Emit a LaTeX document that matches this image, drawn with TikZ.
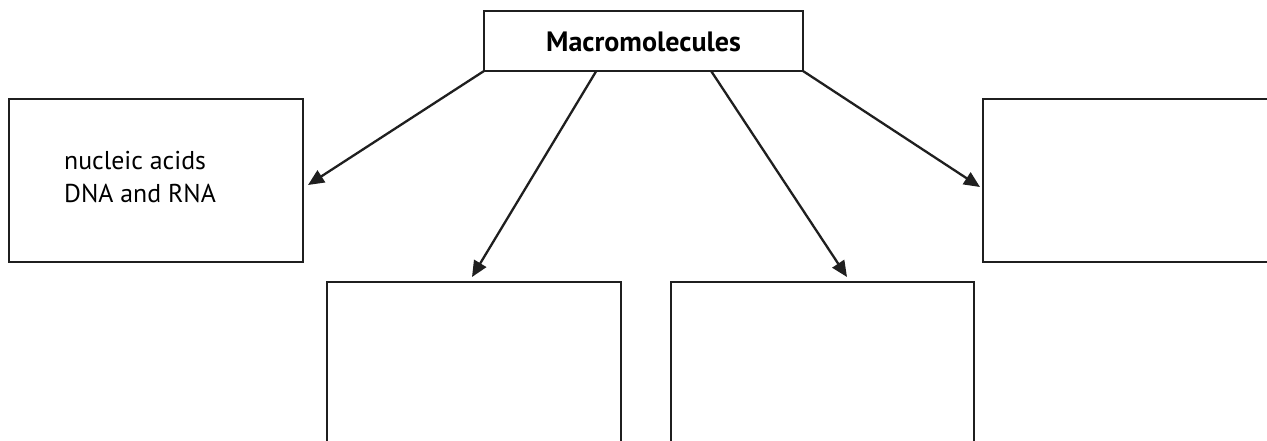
\documentclass[tikz,border=0pt]{standalone}
\usepackage{fontspec}
\setmainfont{PT Sans}
\usetikzlibrary{arrows.meta,calc}
\begin{document}
\begin{tikzpicture}[x=1pt,y=-1pt,
  box/.style={draw=black!88,line width=2.5pt,fill=white,inner sep=0pt,outer sep=0pt,anchor=north west},
  conn/.style={draw=black!88,line width=2.3pt,-{Triangle[length=16pt,width=14pt]}}]
\useasboundingbox (0,0) rectangle (1267,440);
\clip (0,0) rectangle (1267,440);
\fill[white] (0,0) rectangle (1267,440);
\node[box,minimum width=319pt,minimum height=60pt] (top) at (484,11) {};
\node[font=\bfseries\fontsize{28}{32}\selectfont] (toptext) at (643.5,42) {Macromolecules};
\node[box,minimum width=294pt,minimum height=163pt] (left) at (9,99) {};
\node[box,minimum width=320pt,minimum height=163pt] (right) at (983,99) {};
\node[box,minimum width=294pt,minimum height=180pt] (bl) at (327,282) {};
\node[box,minimum width=303pt,minimum height=180pt] (br) at (671,282) {};
\node[anchor=north west,align=left,inner sep=0pt,font=\fontsize{25.8}{33}\selectfont] (nuc) at (64,151) {nucleic acids\\DNA and RNA};
\coordinate (s1) at (top.south west);
\coordinate (s2) at ($(top.south west)!0.352!(top.south east)$);
\coordinate (s3) at ($(top.south west)!0.712!(top.south east)$);
\coordinate (s4) at (top.south east);
\coordinate (e1) at (308,185);
\coordinate (e2) at (472,277);
\coordinate (e3) at (847,277);
\coordinate (e4) at (980,187);
\draw[conn] (s1) -- (e1);
\draw[conn] (s2) -- (e2);
\draw[conn] (s3) -- (e3);
\draw[conn] (s4) -- (e4);
\end{tikzpicture}
\end{document}
